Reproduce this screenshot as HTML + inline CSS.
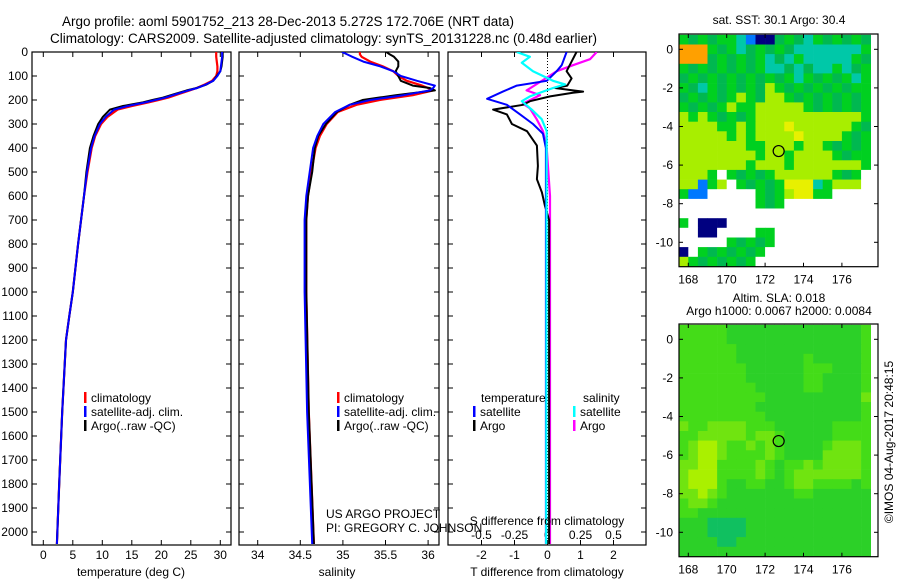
<!DOCTYPE html>
<html><head><meta charset="utf-8"><style>
html,body{margin:0;padding:0;background:#fff;}
svg{display:block;font-family:"Liberation Sans",sans-serif;}
text{fill:#000;}
</style></head><body>
<svg id="chart" width="900" height="580" viewBox="0 0 900 580" xmlns="http://www.w3.org/2000/svg">
<text x="62" y="26" font-size="13.5">Argo profile: aoml 5901752_213 28-Dec-2013 5.272S 172.706E (NRT data)</text>
<text x="50" y="43" font-size="13.5">Climatology: CARS2009. Satellite-adjusted climatology: synTS_20131228.nc (0.48d earlier)</text>
<g id="layer"></g>
</svg>
<script>
// ---- profile data ----
const tDepth = [0,20,40,60,80,100,120,135,150,160,175,190,200,210,225,240,270,300,350,400,500,600,800,1000,1100,1200,1500,1800,2050];
const tArgo = [30.4,30.4,30.3,30.2,30.0,29.4,28.8,27.7,26.0,24.3,22.3,20.3,18.5,16.9,13.5,11.3,10.1,9.3,8.5,7.9,7.3,6.9,5.9,5.0,4.4,3.85,3.2,2.7,2.3];
const tClim = [29.3,29.3,29.4,29.5,29.5,29.3,28.6,27.4,26.0,24.8,23.0,21.2,19.5,17.8,15.0,12.6,10.9,9.8,8.8,8.2,7.5,6.9,5.9,5.0,4.4,3.85,3.2,2.7,2.3];
const tSat = [30.3,30.3,30.2,30.1,30.0,29.5,28.8,27.6,26.1,24.6,22.6,20.7,19.0,17.3,14.3,12.0,10.6,9.6,8.7,8.1,7.4,6.9,5.9,5.0,4.4,3.85,3.2,2.7,2.3];
const sDepth = [0,10,20,40,60,80,100,120,140,150,160,180,200,220,250,300,350,400,500,600,700,1000,1500,2050];
const sArgo = [35.51,35.55,35.60,35.65,35.65,35.62,35.65,35.68,35.82,36.02,36.08,35.62,35.23,35.08,34.93,34.80,34.71,34.67,34.64,34.59,34.57,34.57,34.60,34.66];
const sClim = [35.20,35.20,35.22,35.32,35.47,35.59,35.65,35.75,35.93,36.00,36.06,35.82,35.43,35.16,34.94,34.81,34.73,34.68,34.63,34.59,34.57,34.57,34.60,34.66];
const sSat = [34.99,35.05,35.11,35.24,35.44,35.59,35.68,35.87,36.08,36.06,36.02,35.71,35.32,35.08,34.91,34.77,34.70,34.65,34.61,34.57,34.55,34.55,34.58,34.64];
const dArgoTDepth = [0,40,80,110,140,150,160,165,170,185,205,220,240,260,300,330,390,475,530,585,640,700,2050];
const dArgoT = [0.88,0.73,0.58,0.73,0.6,0.23,0.77,1.08,0.77,0.08,-0.53,-0.74,-1.65,-1.23,-1.08,-0.62,-0.32,-0.29,-0.32,-0.17,-0.08,0.05,0.05];
const dSatTDepth = [0,55,80,120,140,165,195,220,260,300,340,400,2050];
const dSatT = [0.58,0.43,0.28,-0.02,-0.93,-1.35,-1.83,-1.23,-0.83,-0.44,-0.14,-0.05,-0.05];
const dSatSDepth = [0,20,45,80,120,135,150,185,205,240,280,330,2050];
const dSatS = [-0.233,-0.133,-0.195,-0.11,0.042,0.133,0.042,-0.133,-0.195,-0.12,-0.044,-0.006,-0.01];
const dArgoSDepth = [0,30,55,80,125,160,180,215,235,280,330,400,600,2050];
const dArgoS = [0.373,0.322,0.193,0.07,-0.057,-0.158,-0.057,-0.186,-0.133,-0.082,-0.034,-0.006,0.019,0.019];
const depthTicks = [0,100,200,300,400,500,600,700,800,900,1000,1100,1200,1300,1400,1500,1600,1700,1800,1900,2000];
const tTicks = [0,5,10,15,20,25,30];
const sTicks = [34,34.5,35,35.5,36];
const sTickLabels = ["34","34.5","35","35.5","36"];
const dtTicks = [-2,-1,0,1,2];
const dsTicks = [-0.5,-0.25,0,0.25,0.5];
const dsTickLabels = ["-0.5","-0.25","0","0.25","0.5"];
// ---- map data ----
const mapLonTicks = [168,170,172,174,176];
const mapLatTicks = [0,-2,-4,-6,-8,-10];
const argoLon = 172.706, argoLat = -5.272;
const sstGrid = [
"gdgdggcbnndgdcgdgdgd",
"ooogdgcdgdgdcccccccg",
"ooodgdgdgcdcgcccccgd",
"gdgdgdgdgccdcdccgcdg",
"dgdgdgdgdgdgcgdgdgcg",
"gdcgdgdgdlgdgdgdgdgg",
"dgdgdglgdllgdgdgdgdg",
"gdgdglgglllllgdgdgdg",
"lglgdgdglllllllllllg",
"llllgglglllyllllllgd",
"lllllglgllllyllllgdg",
"lllllllgglllgllgdgdg",
"llllllllgllgllllgdgg",
"lllllllglllglllllllg",
"lllgwgdgdgllllllgdgw",
"llbglwgdgdgyyycglllw",
"gbbwwwwwgdglyyggwwww",
"wwwwwwwwgdgwwwwwwwww",
"wwwwwwwwwwwwwwwwwwww",
"gwnnnwwwwwwwwwwwwwww",
"wwnnwwwwggwwwwwwwwww",
"wwwwwgdgdgwwwwwwwwww",
"nwgdgdgdgwwwwwwwwwww",
"lgdgdgdgwwwwwwwwwwww"];
const slaGrid = [
"cccccbbbbbbbbbbbbbbc",
"cccccbbbbbbbbbbbbbbc",
"ccccccbbbbbbbbbbbbbc",
"ccccccbbbbbbbcbbbbbc",
"cccccccbbbbbbcccbbbc",
"cccccccbbbbbbccbbbbc",
"ccccccccbbbbbccbbbbc",
"cccccccccbbbbbbbbbbd",
"ccccccccbbbbbbbbbbbc",
"cccccccccbbbbbbbbbbc",
"dccddddcccbbbbbbcccc",
"ccdddddcddcbbbbbcccc",
"cdeedccdcdcbbbbcdddc",
"cdeedccccdcbbbbddddc",
"ddeeccccdcbccdcddddc",
"deeeccccdcbcdddddddc",
"deeecbbccbbcddccccbc",
"ddedcbbbbbbbccbbbbbb",
"cddcbbbbbbbbbbbbbbbb",
"ccbbbbbbbbbbbbbbbbbb",
"bbbaaaabbbbbbbbbbbbb",
"bbbaaaabbbbbbbbbbbbb",
"bbbbaabbbbbbbbbbbbbb",
"bbbbbbbbbbbbbbbbbbbb"];

const NS="http://www.w3.org/2000/svg";
const L=document.getElementById('layer');
function el(tag,attrs,parent){const e=document.createElementNS(NS,tag);for(const k in attrs)e.setAttribute(k,attrs[k]);(parent||L).appendChild(e);return e;}
function txt(x,y,s,size,anchor){const t=el('text',{x:x,y:y,'font-size':size||12,'text-anchor':anchor||'start'});t.textContent=s;return t;}

const TOP=52, BOT=545;
const yD=d=>TOP+d*0.24;
const P1={x0:32,x1:231}, P2={x0:239,x1:439}, P3={x0:448,x1:646};
const xT=v=>43.3+v*5.9;
const xS=v=>257.7+(v-34)*85.2;
const xDT=v=>547.5+v*33;
const xDS=v=>547.5+v*132;

const defs=el('defs',{});
[P1,P2,P3].forEach((p,i)=>{const c=el('clipPath',{id:'cp'+i},defs);el('rect',{x:p.x0,y:TOP,width:p.x1-p.x0,height:BOT-TOP},c);});

function line(xs,ds,fx,color,clip,w){
  const pts=xs.map((v,i)=>fx(v).toFixed(1)+','+yD(ds[i]).toFixed(1)).join(' ');
  return el('polyline',{points:pts,fill:'none',stroke:color,'stroke-width':w||2,'clip-path':'url(#'+clip+')','stroke-linejoin':'round'});
}
function frame(p){return el('rect',{x:p.x0,y:TOP,width:p.x1-p.x0,height:BOT-TOP,fill:'none',stroke:'#000','stroke-width':1.2});}

depthTicks.forEach(d=>{
  const t=txt(28,yD(d)+4,String(d),12,'end');
  
  
  [P1,P2,P3].forEach(p=>{
    el('line',{x1:p.x0,y1:yD(d),x2:p.x0+5,y2:yD(d),stroke:'#000'});
    el('line',{x1:p.x1-5,y1:yD(d),x2:p.x1,y2:yD(d),stroke:'#000'});
  });
});

let f=frame(P1);


tTicks.forEach(v=>{
  el('line',{x1:xT(v),y1:TOP,x2:xT(v),y2:TOP+5,stroke:'#000'});
  el('line',{x1:xT(v),y1:BOT-5,x2:xT(v),y2:BOT,stroke:'#000'});
  const t=txt(xT(v),559,String(v),12,'middle');
  
  
});
let ln=line(tClim,tDepth,xT,'#ff0000','cp0',2.2);


ln=line(tArgo,tDepth,xT,'#000000','cp0',2);


ln=line(tSat,tDepth,xT,'#0000ff','cp0',2);


let t=txt(131,576,'temperature (deg C)',12,'middle');



f=frame(P2);


sTicks.forEach((v,i)=>{
  el('line',{x1:xS(v),y1:TOP,x2:xS(v),y2:TOP+5,stroke:'#000'});
  el('line',{x1:xS(v),y1:BOT-5,x2:xS(v),y2:BOT,stroke:'#000'});
  const t=txt(xS(v),559,sTickLabels[i],12,'middle');
  
  
});
ln=line(sClim,sDepth,xS,'#ff0000','cp1',2.2);


ln=line(sArgo,sDepth,xS,'#000000','cp1',2);


ln=line(sSat,sDepth,xS,'#0000ff','cp1',2);


t=txt(337,576,'salinity',12,'middle');



function legendRow(bx,y,color,label,name){
  el('rect',{x:bx,y:y-9,width:2.5,height:11,fill:color});
  const t=txt(bx+7,y+1,label,12);
  
  
}
legendRow(84,401,'#ff0000','climatology','legend-climatology');
legendRow(84,415,'#0000ff','satellite-adj. clim.','legend-satellite-adj');
legendRow(84,429,'#000000','Argo(..raw -QC)','legend-argo');
legendRow(337,401,'#ff0000','climatology','legend-climatology-2');
legendRow(337,415,'#0000ff','satellite-adj. clim.','legend-satellite-adj-2');
legendRow(337,429,'#000000','Argo(..raw -QC)','legend-argo-2');
t=txt(326,518,'US ARGO PROJECT',12);


t=txt(326,532,'PI: GREGORY C. JOHNSON',12);



f=frame(P3);


el('line',{x1:xDT(0),y1:TOP,x2:xDT(0),y2:BOT,stroke:'#000','stroke-dasharray':'1,2','stroke-width':1});
dtTicks.forEach(v=>{
  el('line',{x1:xDT(v),y1:BOT-5,x2:xDT(v),y2:BOT,stroke:'#000'});
  const t=txt(xDT(v),559,String(v),12,'middle');
  
  
});
dsTicks.forEach((v,i)=>{
  el('line',{x1:xDS(v),y1:TOP,x2:xDS(v),y2:TOP+5,stroke:'#000'});
  const t=txt(xDS(v),539,dsTickLabels[i],12,'middle');
  
  
});
ln=line(dArgoS,dArgoSDepth,xDS,'#ff00ff','cp2',2.2);


ln=line(dArgoT,dArgoTDepth,xDT,'#000000','cp2',2);


ln=line(dSatT,dSatTDepth,xDT,'#0000ff','cp2',2);


ln=line(dSatS,dSatSDepth,xDS,'#00ffff','cp2',2.2);


t=txt(481,402,'temperature',12);


t=txt(583,402,'salinity',12);


legendRow(473,415,'#0000ff','satellite','legend-t-satellite');
legendRow(473,429,'#000000','Argo','legend-t-argo');
legendRow(573,415,'#00ffff','satellite','legend-s-satellite');
legendRow(573,429,'#ff00ff','Argo','legend-s-argo');
t=txt(547,525,'S difference from climatology',12,'middle');


t=txt(547,576,'T difference from climatology',12,'middle');



const MX0=679, MX1=878;
const xLon=v=>688.3+(v-168)*19.2;
const sstColors={o:'#ffa000',y:'#e8f000',l:'#a8ee00',g:'#00d020',d:'#00b850',c:'#00c8a8',b:'#0078ff',n:'#000080',w:'#ffffff'};
const slaColors={a:'#10c060',b:'#2cd028',c:'#44dc18',d:'#70e410',e:'#aaf000'};
function drawMap(grid,colors,top,bot,lat0y,name,clipId){
  const yLat=v=>lat0y-v*19.3;
  const c=el('clipPath',{id:clipId},defs);
  el('rect',{x:MX0,y:top,width:MX1-MX0,height:bot-top},c);
  const g=el('g',{'clip-path':'url(#'+clipId+')'});
  grid.forEach((row,r)=>{
    for(let k=0;k<row.length;k++){
      const lon=167.5+k*0.5, lat=0.75-r*0.5;
      const cell=el('rect',{x:xLon(lon).toFixed(1),y:yLat(lat).toFixed(1),width:9.9,height:10,fill:colors[row[k]]},g);
      
      
    }
  });
  const fr=el('rect',{x:MX0,y:top,width:MX1-MX0,height:bot-top,fill:'none',stroke:'#000','stroke-width':1.2});
  
  
  mapLonTicks.forEach(v=>{
    el('line',{x1:xLon(v),y1:top,x2:xLon(v),y2:top+4,stroke:'#000'});
    el('line',{x1:xLon(v),y1:bot-4,x2:xLon(v),y2:bot,stroke:'#000'});
    const t=txt(xLon(v),bot+17,String(v),12,'middle');
    
    
  });
  mapLatTicks.forEach(v=>{
    el('line',{x1:MX0,y1:yLat(v),x2:MX0+4,y2:yLat(v),stroke:'#000'});
    el('line',{x1:MX1-4,y1:yLat(v),x2:MX1,y2:yLat(v),stroke:'#000'});
    const t=txt(673,yLat(v)+4,String(v),12,'end');
    
    
  });
  const m=el('circle',{cx:xLon(argoLon),cy:yLat(argoLat),r:5.5,fill:'none',stroke:'#000','stroke-width':1.2});
  
  
}
drawMap(sstGrid,sstColors,34,266.7,49.3,'sst-map','cm1');
drawMap(slaGrid,slaColors,324,556.7,339.3,'sla-map','cm2');
t=txt(779,24,'sat. SST: 30.1 Argo: 30.4',12,'middle');


t=txt(779,302,'Altim. SLA: 0.018',12,'middle');


t=txt(779,315,'Argo h1000: 0.0067 h2000: 0.0084',12,'middle');


t=txt(0,0,'©IMOS 04-Aug-2017 20:48:15',12,'middle');
t.setAttribute('transform','translate(893,442) rotate(-90)');


</script>
</body></html>
